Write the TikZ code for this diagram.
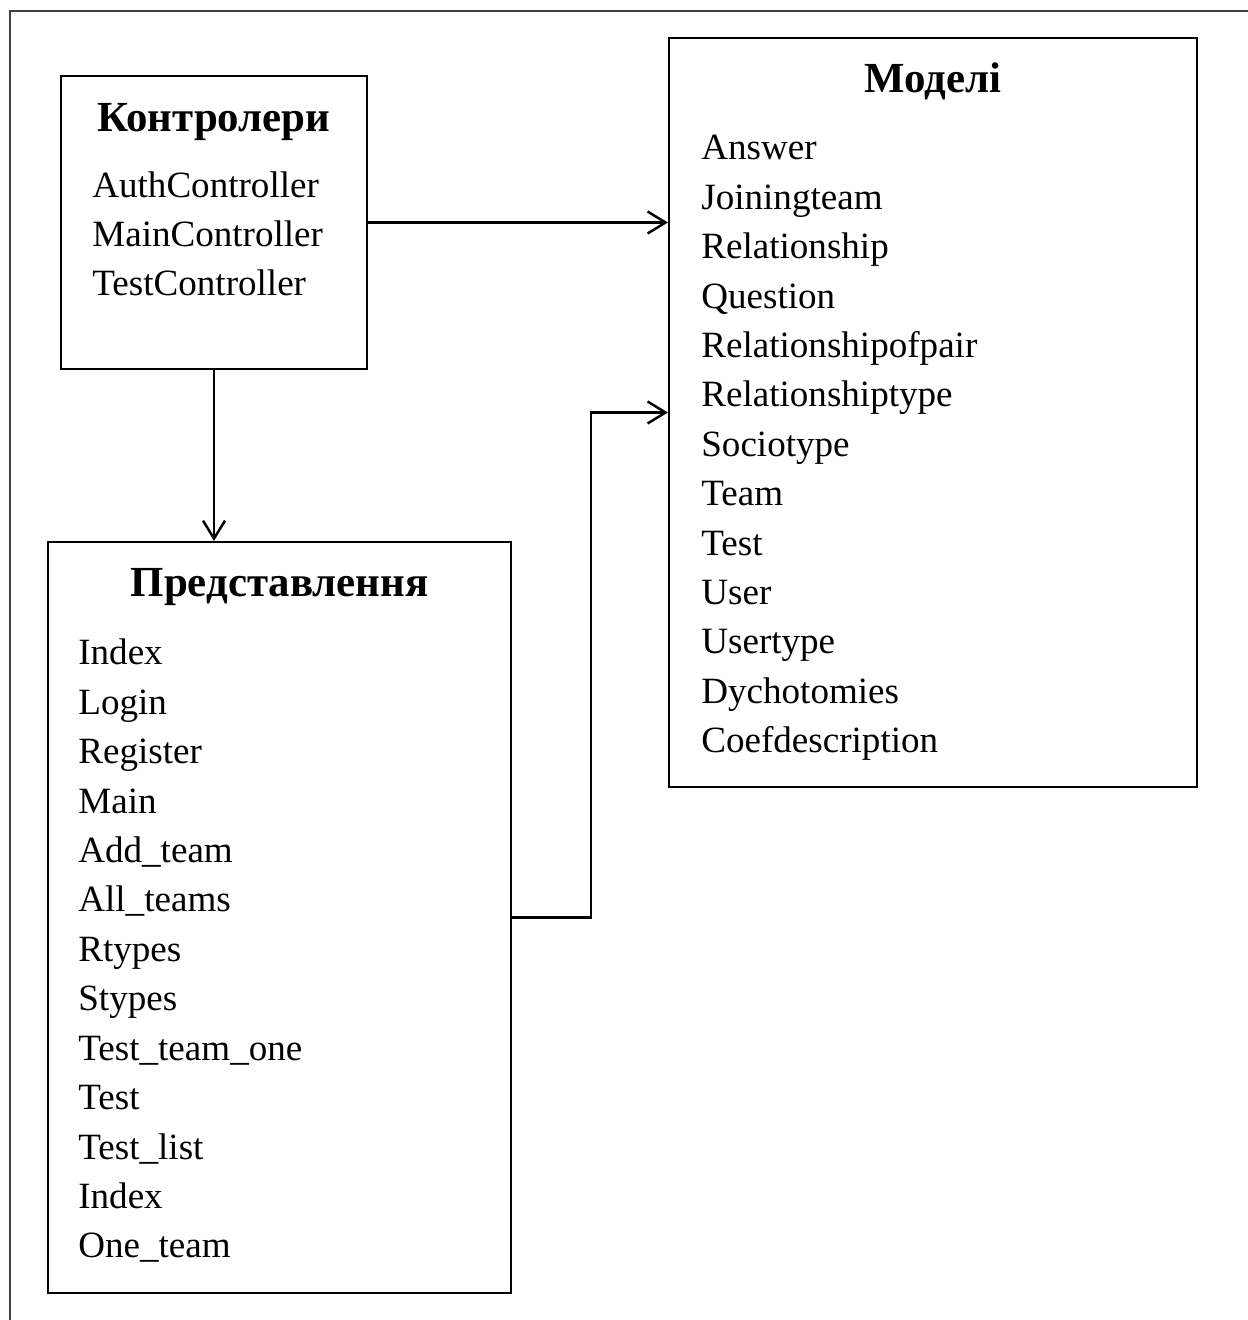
\documentclass[tikz,border=0pt]{standalone}
\usepackage{fontspec}
\setmainfont{Liberation Serif}
\usetikzlibrary{positioning,arrows.meta}

\begin{document}
\begin{tikzpicture}[every node/.style={font=\fontsize{21.1}{28.1}\selectfont},
 box/.style={draw,line width=1.2pt,inner sep=0pt},
 head/.style={anchor=base,font=\fontsize{24.4}{28.1}\selectfont\bfseries},
 item/.style={anchor=base west,inner sep=0pt},
 arr/.style={line width=1.4pt,-{Straight Barb[length=0.36cm,width=0.44cm,line width=1.4pt]}}]
 \useasboundingbox (0,0) rectangle (24.96,26.4);
 \draw[line width=0.6pt,black!75] (0.2,-1) |- (26,26.18);
 % boxes
 \node[box,minimum width=6.12cm,minimum height=5.86cm] (ctrl) at (4.28,21.95) {};
 \node[box,minimum width=10.56cm,minimum height=14.98cm] (mdl) at (18.66,18.15) {};
 \node[box,minimum width=9.26cm,minimum height=15.02cm] (view) at (5.59,8.05) {};
 % titles
 \node[head] (ctrlT) at (4.28,23.76) {Контролери};
 \node[head] (mdlT) at (18.66,24.54) {Моделі};
 \node[head] (viewT) at (5.59,14.46) {Представлення};
 % lists
 \foreach \txt [count=\i from 0] in {AuthController,MainController,TestController}
  \node[item] (c\i) at (1.84,22.44-0.98*\i) {\txt};
 \foreach \txt [count=\i from 0] in {Answer,Joiningteam,Relationship,Question,
  Relationshipofpair,Relationshiptype,Sociotype,Team,Test,User,Usertype,
  Dychotomies,Coefdescription}
  \node[item] (m\i) at (14.02,23.2-0.988*\i) {\txt};
 \foreach \txt [count=\i from 0] in {Index,Login,Register,Main,Add\_team,
  All\_teams,Rtypes,Stypes,Test\_team\_one,Test,Test\_list,Index,One\_team}
  \node[item] (v\i) at (1.56,13.1-0.988*\i) {\txt};
 % connectors
 \draw[arr] (ctrl.east) -- (ctrl.east -| mdl.west);
 \draw[arr] (ctrl.south) -- (ctrl.south |- view.north);
 \draw[arr] (view.east) -- ++(1.58,0) |- (mdl.west);
\end{tikzpicture}
\end{document}
